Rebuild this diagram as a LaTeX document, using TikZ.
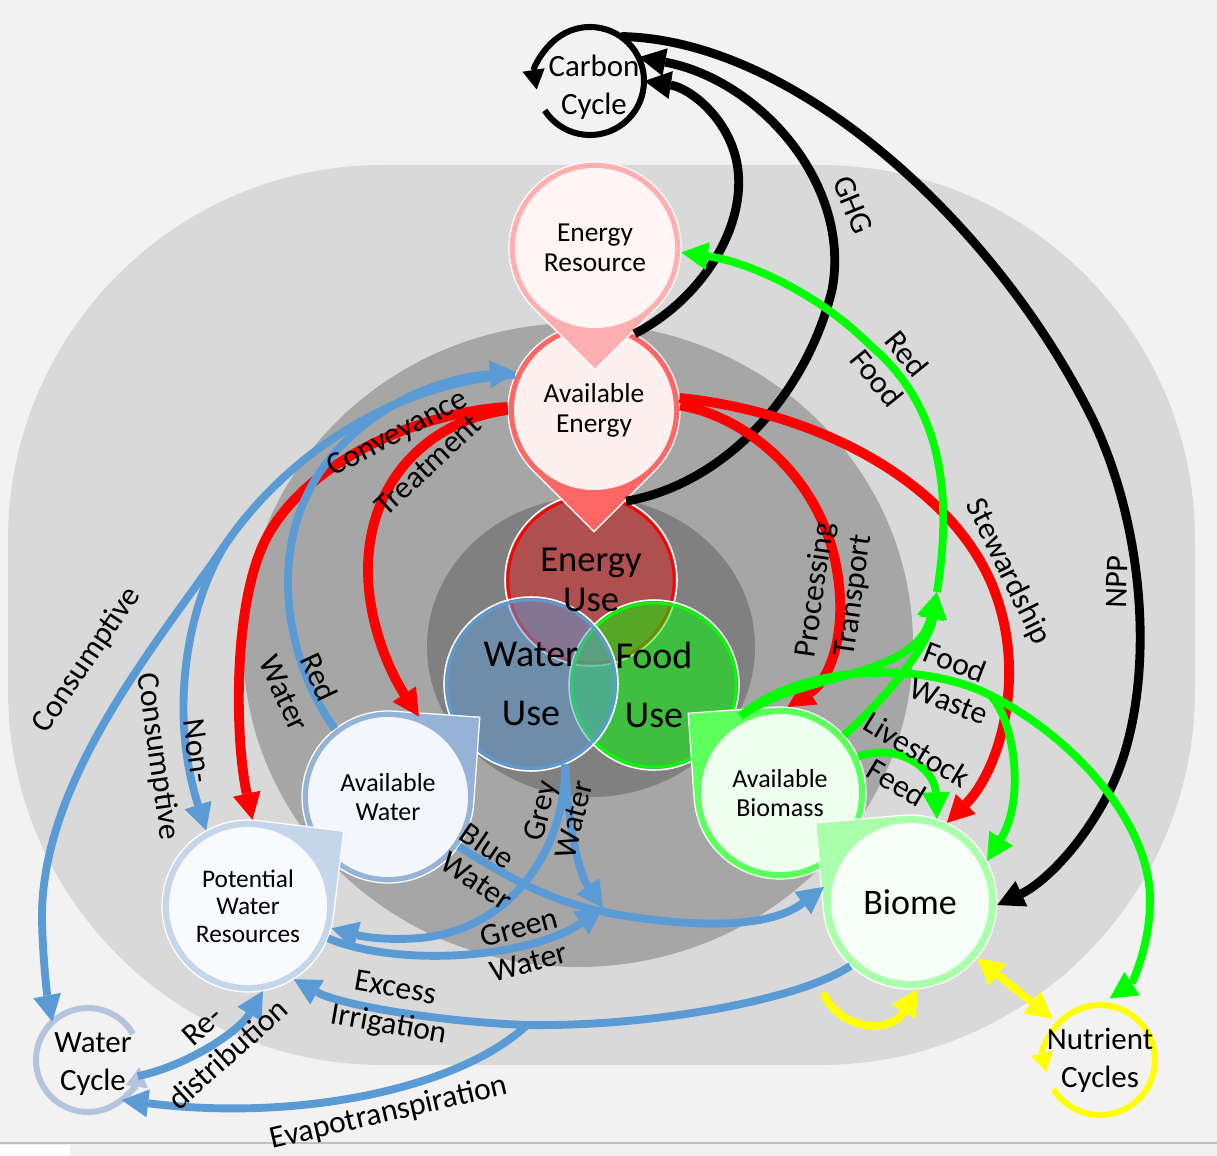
\documentclass[tikz,border=0pt]{standalone}
\usepackage{fontspec}
\setmainfont{Carlito}
\usetikzlibrary{arrows.meta}

\definecolor{paper}{HTML}{F2F2F2}
\definecolor{zoneA}{HTML}{D9D9D9}
\definecolor{zoneB}{HTML}{A6A6A6}
\definecolor{zoneC}{HTML}{808080}
\definecolor{bflow}{HTML}{5B9BD5}
\definecolor{gflow}{HTML}{00FF00}
\definecolor{rflow}{HTML}{FF0000}
\definecolor{yflow}{HTML}{FFFF00}
\definecolor{wcring}{HTML}{B4C4DF}
\definecolor{erring}{HTML}{FFAFAF}\definecolor{erfill}{HTML}{FFF5F5}
\definecolor{aering}{HTML}{FF6666}\definecolor{aefill}{HTML}{FFF0F0}
\definecolor{awring}{HTML}{95B3D7}\definecolor{awfill}{HTML}{F3F7FB}
\definecolor{pwring}{HTML}{C6D6EA}\definecolor{pwfill}{HTML}{F8FAFD}
\definecolor{abring}{HTML}{5CFF5C}\definecolor{abfill}{HTML}{EEFFF0}
\definecolor{biring}{HTML}{AAFFAA}\definecolor{bifill}{HTML}{F5FFF7}
\definecolor{eufill}{RGB}{224,32,32}

% teardrop: centre x, centre y, radius, direction of the point, ring colour, inner fill, ring width
\newcommand\dropnode[7]{%
  \begin{scope}[shift={(#1,#2)},yscale=-1]
    \filldraw[fill=#5,draw=white,line width=0.9pt]
      ({#4-45}:#3) -- (#4:{#3*1.4142}) -- ({#4+45}:#3)
      arc[start angle={#4+45},end angle={#4+315},radius=#3] -- cycle;
    \fill[#6] (0,0) circle[radius={#3-#7}];
  \end{scope}}

% translucent use disc: x, y, radius, fill, ring colour
\newcommand\usedisc[5]{%
  \fill[#4,fill opacity=0.5] (#1,#2) circle[radius=#3];
  \draw[#5,line width=1.8pt] (#1,#2) circle[radius={#3-3}];
  \draw[white,line width=1.1pt] (#1,#2) circle[radius=#3];}

% open ring with an arrow head: x, y, radius, start angle, end angle, colour
\newcommand\cyclering[6]{%
  \begin{scope}[shift={(#1,#2)},yscale=-1]
    \draw[#6,line width=4.3pt,-{Triangle[length=14pt,width=16pt,line width=0pt]}]
      (#4:#3) arc[start angle=#4,end angle=#5,radius=#3];
  \end{scope}}

\begin{document}
\begin{tikzpicture}[x=0.025cm,y=-0.025cm,
  hub/.style={circle,inner sep=0pt,minimum size=#1,align=center},
  lbl/.style={inner sep=0pt,align=center,font=\fontsize{22.5}{27.3}\selectfont},
  tip/.style={-{Triangle[length=19pt,width=20pt,line width=0pt]}},
  bfl/.style={draw=bflow,line width=5.6pt,tip},
  rfl/.style={draw=rflow,line width=7pt,tip},
  gfl/.style={draw=gflow,line width=5.6pt,tip},
  kfl/.style={draw=black,line width=6.3pt,tip},
  yfl/.style={draw=yflow,line width=5.6pt,tip},
  yfl2/.style={draw=yflow,line width=5.6pt,
    {Triangle[length=19pt,width=20pt,line width=0pt]}-{Triangle[length=19pt,width=20pt,line width=0pt]}}]
\useasboundingbox (0,0) rectangle (1217,1156);

% backdrop and nested zones
\fill[paper] (0,0) rectangle (1217,1156);
\fill[black!6] (0,1143) rectangle (1217,1156);
\fill[white] (0,1145) rectangle (70,1156);
\draw[black!25,line width=0.8pt] (0,1143) -- (1217,1143);
\fill[zoneA,rounded corners=9.375cm] (8,165) rectangle (1195,1065);
\fill[zoneB] (578,645) ellipse[x radius=335,y radius=322];
\fill[zoneC] (591,647) ellipse[x radius=164,y radius=150];

% use discs
\usedisc{591}{580}{86}{eufill}{rflow}
\usedisc{654}{685}{85}{gflow}{gflow}
\usedisc{531}{684}{87}{bflow}{bflow}

% resource teardrops
\dropnode{594}{410}{86}{270}{aering}{aefill}{6}
\dropnode{595}{248}{86}{270}{erring}{erfill}{6}
\dropnode{388}{797}{86}{41}{awring}{awfill}{6}
\dropnode{248}{906}{86}{38}{pwring}{pwfill}{7}
\dropnode{780}{793}{86}{139}{abring}{abfill}{7}
\dropnode{910}{902}{87}{140}{biring}{bifill}{8}

% cycles
\cyclering{590}{81}{54}{213}{549}{black}
\cyclering{88}{1060}{52}{30}{352}{wcring}
\cyclering{1100}{1060}{55}{212}{553}{yflow}

% nodes
\node[hub=2.7cm] (CC) at (590,81) {};
\node[align=center,font=\fontsize{22}{27}\selectfont] (CCt) at (594,87) {Carbon\\Cycle};
\node[hub=4.3cm,font=\fontsize{19.5}{21.5}\selectfont] (ER) at (595,248) {Energy\\Resource};
\node[hub=4.3cm,font=\fontsize{19.5}{21.5}\selectfont] (AE) at (594,410) {Available\\Energy};
\node[hub=4.3cm,font=\fontsize{26}{28.4}\selectfont] (EU) at (591,580) {Energy\\Use};
\node[hub=4.25cm,font=\fontsize{27}{41.8}\selectfont] (FU) at (654,685) {Food\\Use};
\node[hub=4.35cm,font=\fontsize{27}{41.8}\selectfont] (WU) at (531,684) {Water\\Use};
\node[hub=4.3cm,font=\fontsize{18.5}{20.6}\selectfont] (AW) at (388,797) {Available\\Water};
\node[hub=4.3cm,font=\fontsize{18}{19.5}\selectfont] (PWR) at (248,906) {Potential\\Water\\Resources};
\node[hub=4.3cm,font=\fontsize{18.5}{20.6}\selectfont] (AB) at (780,793) {Available\\Biomass};
\node[hub=4.35cm,font=\fontsize{25.6}{28}\selectfont] (BI) at (910,902) {Biome};
\node[hub=2.6cm] (WC) at (88,1060) {};
\node[align=center,font=\fontsize{22}{27}\selectfont] (WCt) at (93,1064) {Water\\Cycle};
\node[hub=2.75cm,font=\fontsize{22}{27}\selectfont] (NC) at (1100,1060) {Nutrient\\Cycles};

% junctions
\coordinate (nsplit) at (225,545);
\coordinate (J) at (603,908);
\coordinate (ev) at (527,1025);
\coordinate (rfj) at (937,592);
\coordinate (yl) at (823,993);

% carbon flows
\draw[kfl] (AE.62) .. controls (700,300) and (745,230) .. (738,170)
  .. controls (732,120) and (690,88) .. (CC.0);
\draw[kfl] (EU.66) .. controls (720,485) and (805,400) .. (832,290)
  .. controls (852,185) and (760,80) .. (CC.26);
\draw[kfl] (CC.55) .. controls (800,40) and (1000,230) .. (1093,420)
  .. controls (1150,540) and (1155,700) .. (1110,790)
  .. controls (1080,850) and (1040,885) .. (BI.-2);

% energy flows
\draw[rfl] (AE.180) .. controls (430,420) and (368,480) .. (368,570)
  .. controls (368,630) and (395,680) .. (AW.69);
\draw[rfl] (AE.178) .. controls (420,412) and (310,460) .. (268,535)
  .. controls (232,600) and (235,740) .. (PWR.87);
\draw[rfl] (AE.3) .. controls (740,415) and (815,470) .. (835,560)
  .. controls (850,630) and (830,680) .. (AB.85);
\draw[rfl] (AE.8) .. controls (800,410) and (940,470) .. (990,580)
  .. controls (1030,670) and (1000,770) .. (BI.65);

% food flows
\draw[gfl] (AB.42) .. controls (895,690) and (930,640) .. (rfj);
\draw[gfl] (AB.117) .. controls (800,672) and (915,680) .. (rfj);
\draw[gfl] (rfj) .. controls (955,480) and (935,400) .. (870,345)
  .. controls (820,295) and (750,262) .. (ER.-3);
\draw[gfl] (AB.117) .. controls (800,665) and (920,660) .. (990,695)
  .. controls (1015,720) and (1025,800) .. (BI.28);
\draw[gfl] (AB.117) .. controls (800,665) and (920,660) .. (990,695)
  .. controls (1070,735) and (1150,820) .. (1150,900)
  .. controls (1150,950) and (1130,985) .. (NC.81);
\draw[gfl] (AB.25) .. controls (900,742) and (935,770) .. (BI.72);

% water flows
\draw[bfl] (AW.128) .. controls (285,660) and (265,545) .. (325,465)
  .. controls (370,405) and (440,378) .. (AE.154);
\draw[bfl] (AE.156) .. controls (400,382) and (290,450) .. (nsplit)
  .. controls (160,640) and (40,780) .. (42,920)
  .. controls (43,965) and (48,1000) .. (WC.133);
\draw[bfl] (nsplit) .. controls (188,605) and (168,710) .. (PWR.119);
\draw[bfl] (AW.-35) .. controls (520,885) and (560,905) .. (620,915)
  .. controls (700,928) and (770,928) .. (BI.170);
\draw[bfl] (WU.-67) .. controls (566,850) and (510,930) .. (420,938)
  .. controls (385,941) and (360,936) .. (PWR.-15);
\draw[bfl] (WU.-67) .. controls (568,830) and (580,875) .. (J);
\draw[bfl] (PWR.-22) .. controls (400,968) and (530,958) .. (J);
\draw[bfl] (BI.227) .. controls (800,1000) and (650,1027) .. (ev)
  .. controls (440,1022) and (340,1005) .. (PWR.-58);
\draw[bfl] (ev) .. controls (460,1088) and (300,1122) .. (WC.-50);
\draw[bfl] (WC.-18) .. controls (190,1065) and (240,1030) .. (PWR.-80);

% nutrient flows
\draw[yfl] (yl) .. controls (840,1030) and (890,1035) .. (BI.-85);
\draw[yfl2] (BI.-40) -- (NC.139);

% flow labels
\node[lbl,rotate=-68] (tGHG) at (853,205) {GHG};
\node[lbl,rotate=88] (tNPP) at (1117,582) {NPP};
\node[lbl,rotate=-51] (tRF) at (892,366) {Red\\Food};
\node[lbl,rotate=-64] (tST) at (1008,572) {Stewardship};
\node[lbl,rotate=82] (tPT) at (835,593) {Processing\\Transport};
\node[lbl,rotate=-21,align=left] (tFW) at (956,683) {Food\\Waste};
\node[lbl,rotate=-31] (tLF) at (907,766) {Livestock\\Feed};
\node[lbl,rotate=28] (tCV) at (398,434) {Conveyance};
\node[lbl,rotate=43] (tTM) at (428,465) {Treatment};
\node[lbl,rotate=56] (tCS) at (87,660) {Consumptive};
\node[lbl,rotate=-82] (tNC) at (176,754) {Non-\\Consumptive};
\node[lbl,rotate=-65] (tRW) at (302,685) {Red\\Water};
\node[lbl,rotate=-34,align=left,font=\fontsize{22.5}{24.8}\selectfont] (tBW) at (487,866) {Blue\\Water};
\node[lbl,rotate=76,font=\fontsize{22.5}{25}\selectfont] (tGY) at (557,815) {Grey\\Water};
\node[lbl,rotate=15,font=\fontsize{22.5}{25.5}\selectfont] (tGN) at (524,945) {Green\\Water};
\node[lbl,rotate=-10,font=\fontsize{22.5}{26.3}\selectfont] (tEI) at (392,1008) {Excess\\Irrigation};
\node[lbl,rotate=42] (tRD) at (215,1040) {Re-\\distribution};
\node[lbl,rotate=13] (tEV) at (389,1113) {Evapotranspiration};
\end{tikzpicture}
\end{document}
